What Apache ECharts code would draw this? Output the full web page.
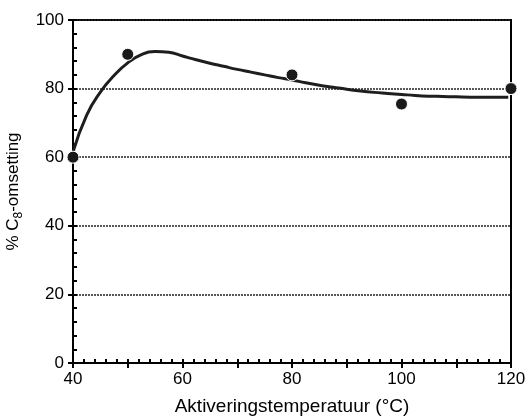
<!DOCTYPE html>
<html>
<head>
<meta charset="utf-8">
<script src="https://cdn.jsdelivr.net/npm/echarts@6/dist/echarts.min.js"></script>
<style>html,body{margin:0;padding:0;background:#fff}#c{width:527px;height:417px}</style>
</head>
<body>
<div id="c"></div>
<script>
// Measured data points
const tempPoints = [40, 50, 80, 100, 120];
const conversion = [60, 90, 84, 75.5, 80];
// Fitted curve (every 2.5 °C)
const curveTemp = [40, 42.5, 45, 47.5, 50, 52.5, 55, 57.5, 60, 62.5, 65, 67.5, 70, 72.5, 75, 77.5, 80, 82.5, 85, 87.5, 90, 92.5, 95, 97.5, 100, 102.5, 105, 107.5, 110, 112.5, 115, 117.5, 119.5];
const curveValue = [61.5, 72.3, 79.0, 83.8, 87.5, 89.9, 90.8, 90.6, 89.5, 88.4, 87.4, 86.5, 85.6, 84.8, 84.0, 83.2, 82.5, 81.7, 81.0, 80.4, 79.8, 79.3, 78.9, 78.6, 78.3, 78.0, 77.8, 77.7, 77.6, 77.5, 77.5, 77.5, 77.5];
const xTickLabels = [40, 60, 80, 100, 120];
const yTickLabels = [0, 20, 40, 60, 80, 100];

const font = 'Liberation Sans, Arial, sans-serif';
const chart = echarts.init(document.getElementById('c'));
const axisLine = {show: true, lineStyle: {color: '#000', width: 2}};
chart.setOption({
  animation: false,
  backgroundColor: '#fff',
  grid: {left: 73, right: 16, top: 20, bottom: 54, containLabel: false, outerBoundsMode: 'none',
    show: true, borderColor: '#000', borderWidth: 2, backgroundColor: 'transparent'},
  xAxis: [{
    type: 'value', min: 40, max: 120, interval: 10, position: 'bottom',
    axisLine: axisLine,
    axisTick: {show: true, inside: false, length: 5, lineStyle: {color: '#000', width: 2}},
    axisLabel: {color: '#000', fontFamily: font, fontSize: 17, margin: 8,
      formatter: v => xTickLabels.includes(v) ? String(v) : ''},
    splitLine: {show: false},
    name: 'Aktiveringstemperatuur (°C)', nameLocation: 'middle', nameGap: 34,
    nameTextStyle: {color: '#000', fontFamily: font, fontSize: 19}
  }, {
    type: 'value', min: 40, max: 120, interval: 2, position: 'bottom',
    axisLine: {show: false},
    axisTick: {show: true, inside: true, length: 4, lineStyle: {color: '#000', width: 2}},
    axisLabel: {show: false}, splitLine: {show: false}
  }],
  yAxis: [{
    type: 'value', min: 0, max: 100, interval: 20,
    axisLine: axisLine,
    axisTick: {show: true, inside: false, length: 5, lineStyle: {color: '#000', width: 2}},
    axisLabel: {color: '#000', fontFamily: font, fontSize: 17, margin: 9,
      formatter: v => yTickLabels.includes(v) ? String(v) : ''},
    splitLine: {show: true, lineStyle: {color: '#222', width: 1.5, type: [2, 1]}},
    name: '% C{sub|8}-omsetting', nameLocation: 'middle', nameGap: 35,
    nameTextStyle: {color: '#000', fontFamily: font, fontSize: 17,
      rich: {sub: {fontSize: 12, fontFamily: font, color: '#000', padding: [10, 0, 0, 0]}}}
  }, {
    type: 'value', min: 0, max: 100, interval: 4, position: 'left',
    axisLine: {show: false},
    axisTick: {show: true, inside: true, length: 4, lineStyle: {color: '#000', width: 2}},
    axisLabel: {show: false}, splitLine: {show: false}
  }],
  series: [{
    type: 'line', xAxisIndex: 0, yAxisIndex: 0,
    data: curveTemp.map((t, i) => [t, curveValue[i]]),
    smooth: 0.5, showSymbol: false, symbol: 'none',
    lineStyle: {color: '#1e1e1e', width: 3}, z: 3
  }, {
    type: 'scatter', xAxisIndex: 0, yAxisIndex: 0,
    data: tempPoints.map((t, i) => [t, conversion[i]]),
    symbol: 'circle', symbolSize: 12, clip: false,
    itemStyle: {color: '#1a1a1a', opacity: 1, borderColor: '#fff', borderWidth: 1}, z: 5
  }]
});
</script>
</body>
</html>
